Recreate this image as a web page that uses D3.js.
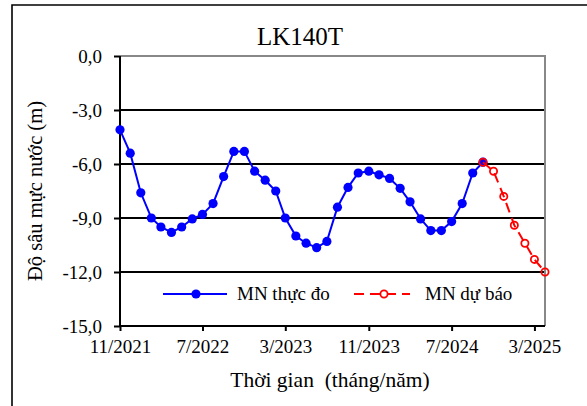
<!DOCTYPE html>
<html>
<head>
<meta charset="utf-8">
<script src="https://cdn.jsdelivr.net/npm/d3@7"></script>
</head>
<body style="margin:0">
<svg id="chart" width="587" height="406"></svg>
<script>
// --- data ---
const startMonth = "11/2021";            // first observation
const endMonth = "4/2025";               // right end of the time axis
const tickLabels = ["11/2021", "7/2022", "3/2023", "11/2023", "7/2024", "3/2025"];
const yTicks = [0, -3, -6, -9, -12, -15];

// observed water level depth (m), monthly from 11/2021
const observed = [-4.1, -5.4, -7.6, -9.0, -9.5, -9.8, -9.5, -9.05, -8.8, -8.2, -6.7, -5.3,
  -5.3, -6.4, -6.9, -7.5, -9.0, -10.0, -10.4, -10.65, -10.3, -8.4, -7.3, -6.5,
  -6.4, -6.6, -6.8, -7.35, -8.1, -9.05, -9.7, -9.7, -9.2, -8.2, -6.5, -5.9];
// forecast, monthly from 10/2024
const forecastStart = "10/2024";
const forecast = [-5.9, -6.4, -7.8, -9.4, -10.4, -11.3, -12.0];

const seriesNames = ["MN thực đo", "MN dự báo"];

const FONT = "Liberation Serif";

// resolve the serif face up front (canvas measure forces the lookup)
const ctx = document.createElement("canvas").getContext("2d");
[19, 20.5, 21.5, 25].forEach(s => {
  ctx.font = `${s}px "${FONT}"`;
  ctx.measureText("LK140T Thời gian Độ sâu mực nước 0123456789");
});

const W = 587, H = 406;
const parseM = d3.utcParse("%m/%Y");
const t0 = parseM(startMonth), t1 = parseM(endMonth);
const f0 = parseM(forecastStart);

const obsData = observed.map((v, i) => ({ date: d3.utcMonth.offset(t0, i), v }));
const fcData = forecast.map((v, i) => ({ date: d3.utcMonth.offset(f0, i), v }));

const plot = { left: 120, right: 545, top: 56, bottom: 326 };

const x = d3.scaleUtc().domain([t0, t1]).range([plot.left, plot.right]);
const y = d3.scaleLinear().domain([0, -15]).range([plot.top, plot.bottom]);

const svg = d3.select("#chart");

// serif text helper
function label(sel, size) {
  sel.style("font-family", `"${FONT}"`)
    .style("font-size", size + "px")
    .attr("fill", "#000");
}

// outer chart frame (cropped on right/bottom)
svg.append("path")
  .attr("d", `M12,${H + 5}V5H${W + 5}`)
  .attr("fill", "none").attr("stroke", "#000").attr("stroke-width", 1.6);

// title
svg.append("text")
  .attr("x", 300).attr("y", 45)
  .attr("text-anchor", "middle")
  .call(label, 25)
  .text("LK140T");

// gridlines
svg.append("g").selectAll("line")
  .data(yTicks.filter(d => d !== 0 && d !== -15))
  .join("line")
    .attr("x1", plot.left).attr("x2", plot.right)
    .attr("y1", d => y(d)).attr("y2", d => y(d))
    .attr("stroke", "#000").attr("stroke-width", 2);

// plot area border (top + right)
svg.append("path")
  .attr("d", `M${plot.left},${plot.top}H${plot.right}V${plot.bottom}`)
  .attr("fill", "none").attr("stroke", "#888").attr("stroke-width", 2);

// y axis
const yAxis = svg.append("g")
  .attr("transform", `translate(${plot.left},0)`)
  .call(d3.axisLeft(y).tickValues(yTicks).tickSize(6).tickPadding(12)
    .tickFormat(d => d3.format(".1f")(d).replace(".", ",").replace("−", "-")));
yAxis.attr("font-family", null);
yAxis.select(".domain").attr("stroke-width", 2).attr("d", `M0,${plot.top}V${plot.bottom}`);
yAxis.selectAll(".tick line").attr("stroke-width", 2);
yAxis.selectAll("text").call(label, 19);

// x axis
const xAxis = svg.append("g")
  .attr("transform", `translate(0,${plot.bottom})`)
  .call(d3.axisBottom(x).tickValues(tickLabels.map(parseM)).tickSize(5).tickPadding(9)
    .tickFormat(d3.utcFormat("%-m/%Y")));
xAxis.attr("font-family", null);
xAxis.select(".domain").attr("stroke-width", 2).attr("d", `M${plot.left},0H${plot.right}`);
xAxis.selectAll(".tick line").attr("stroke-width", 2);
xAxis.selectAll("text").call(label, 19);

// axis titles
svg.append("text")
  .attr("transform", "translate(42,191) rotate(-90)")
  .attr("text-anchor", "middle")
  .call(label, 20.5)
  .text("Độ sâu mực nước (m)");

svg.append("text")
  .attr("x", 330).attr("y", 387)
  .attr("text-anchor", "middle")
  .call(label, 21.5)
  .text("Thời gian\u00a0 (tháng/năm)");

const line = d3.line().x(d => x(d.date)).y(d => y(d.v));

// observed series
svg.append("path")
  .datum(obsData)
  .attr("d", line)
  .attr("fill", "none").attr("stroke", "#0000ff").attr("stroke-width", 2);
svg.append("g").selectAll("circle")
  .data(obsData)
  .join("circle")
    .attr("cx", d => x(d.date)).attr("cy", d => y(d.v))
    .attr("r", 4.6).attr("fill", "#0000ff");

// forecast series
svg.append("path")
  .datum(fcData)
  .attr("d", line)
  .attr("fill", "none").attr("stroke", "#ff0000").attr("stroke-width", 2)
  .attr("stroke-dasharray", "10,6");
svg.append("g").selectAll("circle")
  .data(fcData)
  .join("circle")
    .attr("cx", d => x(d.date)).attr("cy", d => y(d.v))
    .attr("r", 3.6).attr("fill", "none")
    .attr("stroke", "#ff0000").attr("stroke-width", 1.8);

// legend
const legY = 294;
const leg = svg.append("g");
leg.append("line")
  .attr("x1", 163).attr("x2", 227).attr("y1", legY).attr("y2", legY)
  .attr("stroke", "#0000ff").attr("stroke-width", 2);
leg.append("circle").attr("cx", 196).attr("cy", legY).attr("r", 4.6).attr("fill", "#0000ff");
leg.append("text").attr("x", 237).attr("y", legY + 6)
  .call(label, 19).text(seriesNames[0]);

leg.append("line")
  .attr("x1", 354).attr("x2", 410).attr("y1", legY).attr("y2", legY)
  .attr("stroke", "#ff0000").attr("stroke-width", 2)
  .attr("stroke-dasharray", "10,6");
leg.append("circle").attr("cx", 384).attr("cy", legY).attr("r", 3.6)
  .attr("fill", "#fff").attr("stroke", "#ff0000").attr("stroke-width", 1.8);
leg.append("text").attr("x", 425).attr("y", legY + 6)
  .call(label, 19).text(seriesNames[1]);
</script>
</body>
</html>
